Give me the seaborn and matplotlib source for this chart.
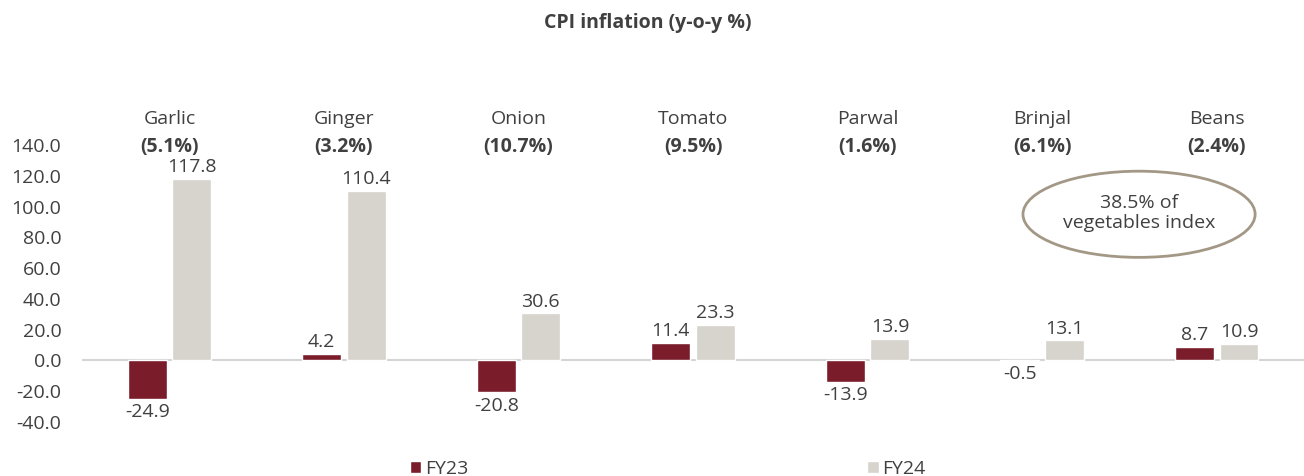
import pandas as pd
import seaborn as sns
import matplotlib.pyplot as plt
from matplotlib.patches import Ellipse

vegetables = ["Garlic", "Ginger", "Onion", "Tomato", "Parwal", "Brinjal", "Beans"]
weights = ["(5.1%)", "(3.2%)", "(10.7%)", "(9.5%)", "(1.6%)", "(6.1%)", "(2.4%)"]
fy23 = [-24.9, 4.2, -20.8, 11.4, -13.9, -0.5, 8.7]
fy24 = [117.8, 110.4, 30.6, 23.3, 13.9, 13.1, 10.9]
years = ["FY23", "FY24"]
yticks = [-40, -20, 0, 20, 40, 60, 80, 100, 120, 140]

df = pd.DataFrame({
    "veg": vegetables * 2,
    "value": fy23 + fy24,
    "year": [years[0]] * len(vegetables) + [years[1]] * len(vegetables),
})

sns.set_theme(style="white")
plt.rcParams["font.family"] = ["Open Sans", "DejaVu Sans"]
text_col = "#404040"
fs = 14

fig = plt.figure(figsize=(13.04, 4.76), dpi=100)
ax = fig.add_axes([0.063, 0.1134, 0.937, 0.5819])

sns.barplot(data=df, x="veg", y="value", hue="year",
            palette=["#7B1C2A", "#D7D3CD"], width=0.51, gap=0.125,
            ax=ax, saturation=1)

ax.set_ylim(-40, 140)
ax.set_yticks(yticks)
ax.set_yticklabels([f"{v:.1f}" for v in yticks], fontsize=fs, color=text_col)
ax.tick_params(axis="y", length=0, pad=15)
ax.set_xticks([])
ax.set_xlabel("")
ax.set_ylabel("")
for s in ax.spines.values():
    s.set_visible(False)
ax.axhline(0, color="#D5D5D5", lw=1.5, zorder=0)

for cont in ax.containers:
    vals = cont.datavalues
    pos = [f"{v:.1f}" if v >= 0 else "" for v in vals]
    neg = [f"{v:.1f}" if v < 0 else "" for v in vals]
    ax.bar_label(cont, labels=pos, padding=2, fontsize=fs, color=text_col)
    ax.bar_label(cont, labels=neg, padding=3, fontsize=fs, color=text_col)

# category names with weights above the bars
for i, (name, w) in enumerate(zip(vegetables, weights)):
    ax.text(i, 157, name, ha="center", va="center", fontsize=fs,
            color=text_col, clip_on=False)
    ax.text(i, 139, w, ha="center", va="center", fontsize=fs,
            fontweight="bold", color=text_col, clip_on=False)

# ellipse note
ell = Ellipse((5.555, 95), width=1.33, height=56, fill=False,
              edgecolor="#A39886", lw=2, clip_on=False)
ax.add_patch(ell)
ax.text(5.555, 96, "38.5% of\nvegetables index", ha="center", va="center",
        fontsize=14, color=text_col, linespacing=1.15)

handles, labels = ax.get_legend_handles_labels()
ax.legend_.remove()
fig.legend(handles, labels, loc="lower center", bbox_to_anchor=(0.512, -0.04),
           ncol=2, frameon=False, columnspacing=20.5, handlelength=0.6,
           handleheight=0.6, handletextpad=0.2, fontsize=14,
           labelcolor=text_col)

fig.text(0.497, 0.952, "CPI inflation (y-o-y %)", ha="center", va="center",
         fontsize=14, fontweight="bold", color=text_col)

fig.savefig("out.png", dpi=100)
